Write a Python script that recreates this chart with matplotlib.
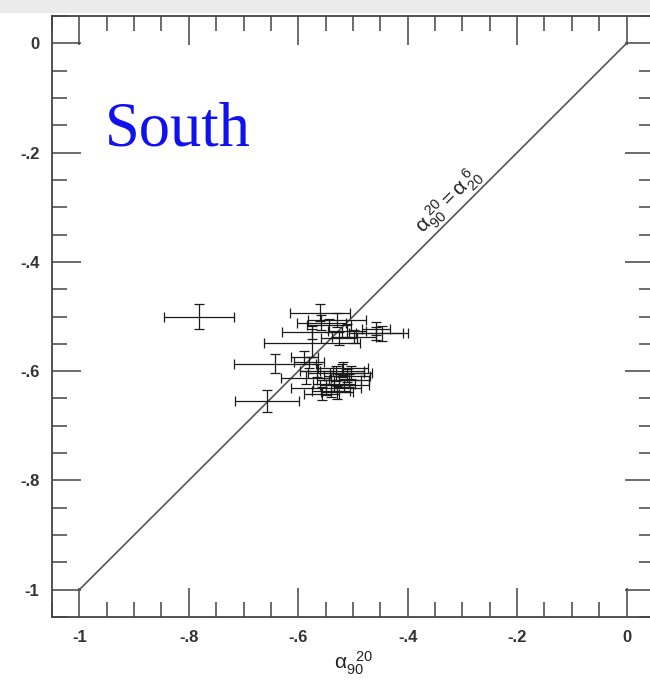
import numpy as np
import matplotlib.pyplot as plt
from matplotlib.ticker import MultipleLocator, FuncFormatter

plt.rcParams["mathtext.fontset"] = "custom"
plt.rcParams["mathtext.rm"] = "Liberation Sans"
plt.rcParams["mathtext.it"] = "Liberation Sans"
plt.rcParams["mathtext.bf"] = "Liberation Sans:bold"

# === datos (alpha_90^20 vs alpha_20^6, region South) ===
alpha_90_20 = [-0.781, -0.560, -0.529, -0.458, -0.458, -0.447, -0.575, -0.526,
               -0.575, -0.642, -0.580, -0.586, -0.531, -0.549, -0.557, -0.657,
               -0.507, -0.520, -0.540, -0.544, -0.511, -0.498, -0.558, -0.526,
               -0.516, -0.535, -0.511, -0.504, -0.529, -0.518, -0.566, -0.589]
alpha_20_6 = [-0.500, -0.493, -0.507, -0.522, -0.531, -0.531, -0.529, -0.540,
              -0.549, -0.586, -0.584, -0.612, -0.604, -0.630, -0.641, -0.654,
              -0.617, -0.599, -0.636, -0.516, -0.526, -0.537, -0.511, -0.617,
              -0.626, -0.623, -0.608, -0.603, -0.639, -0.595, -0.599, -0.575]
err_x = [0.064, 0.055, 0.053, 0.026, 0.049, 0.047, 0.055, 0.033,
         0.087, 0.075, 0.027, 0.046, 0.052, 0.064, 0.032, 0.059,
         0.036, 0.040, 0.035, 0.040, 0.035, 0.040, 0.045, 0.040,
         0.045, 0.038, 0.042, 0.038, 0.030, 0.045, 0.030, 0.025]
err_y = [0.022, 0.015, 0.013, 0.012, 0.012, 0.014, 0.012, 0.012,
         0.026, 0.018, 0.010, 0.012, 0.014, 0.014, 0.012, 0.020,
         0.012, 0.012, 0.012, 0.012, 0.012, 0.012, 0.014, 0.012,
         0.012, 0.014, 0.012, 0.012, 0.012, 0.012, 0.012, 0.012]

# linea de igualdad
line_x = [-1, 0]

fig = plt.figure(figsize=(6.5, 6.82), dpi=100)
# franja gris clara arriba (como en la imagen escaneada)
fig.patches.append(plt.Rectangle((0, 0.982), 1, 0.018, transform=fig.transFigure,
                                 color="#ebebeb", zorder=0))
ax = fig.add_axes([0.08, 0.0953, 0.926, 0.8812])

ax.plot(line_x, line_x, color="#555555", lw=1.2)
ax.errorbar(alpha_90_20, alpha_20_6, xerr=err_x, yerr=err_y, fmt="none",
            ecolor="#1a1a1a", elinewidth=0.9, capsize=3.5, capthick=0.9)

ax.set_xlim(-1.05, 0.05)
ax.set_ylim(-1.05, 0.05)

for a in (ax.xaxis, ax.yaxis):
    a.set_major_locator(MultipleLocator(0.2))
    a.set_minor_locator(MultipleLocator(0.05))


def fmt(v, pos):
    if abs(v) < 1e-9:
        return "0"
    if abs(abs(v) - 1) < 1e-9:
        return "-1" if v < 0 else "1"
    return ("-" if v < 0 else "") + ("%.1f" % abs(v))[1:]


ax.xaxis.set_major_formatter(FuncFormatter(fmt))
ax.yaxis.set_major_formatter(FuncFormatter(fmt))
ax.tick_params(which="both", direction="in", top=True, right=True,
               colors="#444444", labelcolor="#333333", width=1.1)
ax.tick_params(which="major", length=21, labelsize=12, pad=9)
ax.tick_params(which="minor", length=11)
for tl in ax.get_xticklabels() + ax.get_yticklabels():
    tl.set_family("Liberation Sans")
    tl.set_fontweight("bold")
for s in ax.spines.values():
    s.set_color("#444444")
    s.set_linewidth(1.3)

ax.set_xlabel(r"$\alpha_{90}^{\ \ 20}$", fontsize=15, color="#222222", labelpad=4)

ax.text(-0.954, -0.187, "South", color="#1010f0", fontsize=45,
        family="Liberation Serif")
ax.text(-0.325, -0.288, r"$\alpha_{90}^{\ 20} = \alpha_{20}^{\ 6}$", rotation=45,
        fontsize=15, color="#222222", ha="center", va="center",
        rotation_mode="anchor")

plt.savefig("out.png", dpi=100)
